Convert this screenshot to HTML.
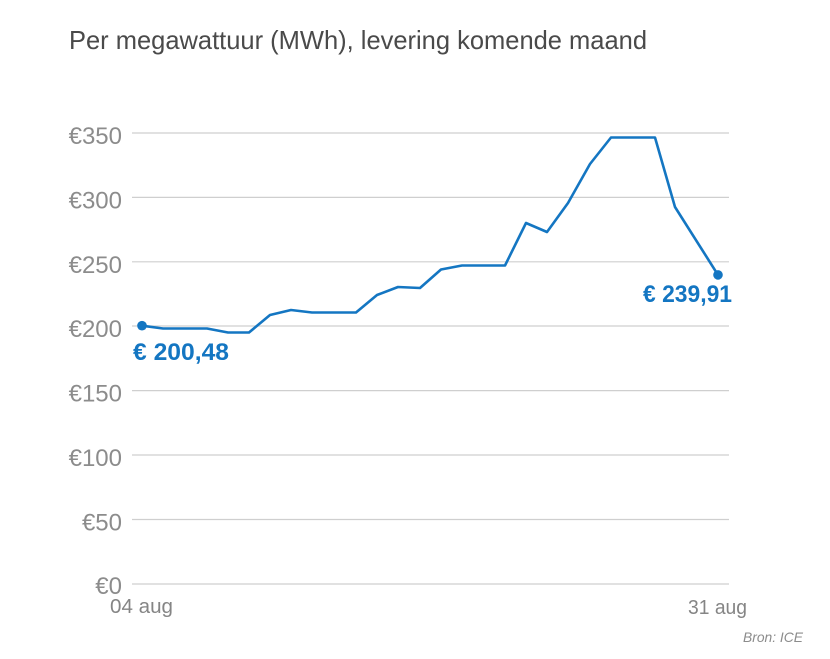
<!DOCTYPE html>
<html>
<head>
<meta charset="utf-8">
<style>
  html, body { margin: 0; padding: 0; background: #ffffff; }
  body { width: 830px; height: 659px; overflow: hidden; }
  svg { display: block; }
  text { font-family: "Liberation Sans", "DejaVu Sans", sans-serif; }
</style>
</head>
<body>
<svg width="830" height="659" viewBox="0 0 830 659" xmlns="http://www.w3.org/2000/svg">
  <rect width="830" height="659" fill="#ffffff"/>

  <!-- Title -->
  <text x="69" y="49" font-size="26" fill="#4a4a4a" textLength="578" lengthAdjust="spacingAndGlyphs">Per megawattuur (MWh), levering komende maand</text>

  <!-- Gridlines -->
  <g stroke="#cfcfcf" stroke-width="1.2">
    <line x1="132" y1="133" x2="729" y2="133"/>
    <line x1="132" y1="197.4" x2="729" y2="197.4"/>
    <line x1="132" y1="261.8" x2="729" y2="261.8"/>
    <line x1="132" y1="326" x2="729" y2="326"/>
    <line x1="132" y1="390.6" x2="729" y2="390.6"/>
    <line x1="132" y1="455" x2="729" y2="455"/>
    <line x1="132" y1="519.5" x2="729" y2="519.5"/>
    <line x1="132" y1="584" x2="729" y2="584"/>
  </g>

  <!-- Y labels -->
  <g font-size="24" fill="#8c8c8c" text-anchor="end">
    <text x="122" y="144">€350</text>
    <text x="122" y="208.4">€300</text>
    <text x="122" y="272.8">€250</text>
    <text x="122" y="337">€200</text>
    <text x="122" y="401.6">€150</text>
    <text x="122" y="466">€100</text>
    <text x="122" y="530.5">€50</text>
    <text x="122" y="594">€0</text>
  </g>

  <!-- X labels -->
  <g font-size="20" fill="#858585">
    <text x="110" y="613" textLength="63" lengthAdjust="spacingAndGlyphs">04 aug</text>
    <text x="688" y="614" textLength="59" lengthAdjust="spacingAndGlyphs">31 aug</text>
  </g>

  <!-- Source -->
  <text x="743" y="642" font-size="14" font-style="italic" fill="#8c8c8c" textLength="60" lengthAdjust="spacingAndGlyphs">Bron: ICE</text>

  <!-- Series -->
  <polyline fill="none" stroke="#1476c2" stroke-width="2.6" stroke-linejoin="round" stroke-linecap="round"
    points="142,325.7 163,328.5 207,328.5 228,332.5 249,332.5 270,315 291,310 312,312.5 356,312.5 377,295 398,287 420,288 441,269.5 462,265.5 505,265.5 526,223 547,232 568,203 590,164 611,137.5 655,137.5 675,207 718,274.9"/>
  <circle cx="142" cy="325.7" r="4.8" fill="#1476c2"/>
  <circle cx="718" cy="274.9" r="4.8" fill="#1476c2"/>

  <!-- Value annotations -->
  <text x="133" y="360" font-size="24" font-weight="bold" fill="#1476c2" textLength="96" lengthAdjust="spacingAndGlyphs">€ 200,48</text>
  <text x="643" y="302" font-size="24" font-weight="bold" fill="#1476c2" textLength="89" lengthAdjust="spacingAndGlyphs">€ 239,91</text>
</svg>
</body>
</html>
